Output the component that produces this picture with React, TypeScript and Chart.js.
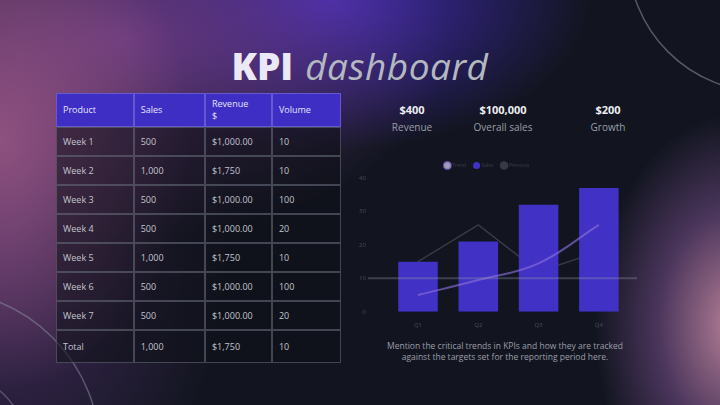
import React, { useEffect, useRef } from "react";
import Chart from "chart.js/auto";

const quarters = ["Q1", "Q2", "Q3", "Q4"];
const salesBars = [15, 21, 32, 37];
const trendLine = [5, 9.5, 14.5, 26];
const compareLine = [15, 26, 12, 18];
const targetValue = 10;
const yTicks = [0, 10, 20, 30, 40];

const tableHeader = ["Product", "Sales", "Revenue $", "Volume"];
const products = ["Week 1", "Week 2", "Week 3", "Week 4", "Week 5", "Week 6", "Week 7", "Total"];
const sales = ["500", "1,000", "500", "500", "1,000", "500", "500", "1,000"];
const revenue = ["$1,000.00", "$1,750", "$1,000.00", "$1,000.00", "$1,750", "$1,000.00", "$1,000.00", "$1,750"];
const volume = ["10", "10", "100", "20", "10", "100", "20", "10"];

const kpiValues = ["$400", "$100,000", "$200"];
const kpiLabels = ["Revenue", "Overall sales", "Growth"];

const FONT = "'Open Sans', 'Noto Sans', sans-serif";

const targetLinePlugin = {
  id: "targetLine",
  afterDatasetsDraw(chart: any) {
    const { ctx, chartArea, scales } = chart;
    const y = scales.y.getPixelForValue(targetValue);
    ctx.save();
    ctx.strokeStyle = "rgba(150,155,170,0.32)";
    ctx.lineWidth = 2;
    ctx.beginPath();
    ctx.moveTo(chartArea.left - 20, y);
    ctx.lineTo(chartArea.right + 8, y);
    ctx.stroke();
    ctx.restore();
  },
};

function KpiChart() {
  const ref = useRef<HTMLCanvasElement>(null);
  useEffect(() => {
    if (!ref.current) return;
    const chart = new Chart(ref.current, {
      type: "bar",
      data: {
        labels: quarters,
        datasets: [
          {
            type: "line",
            label: "Trend",
            data: trendLine,
            borderColor: "rgba(135,110,220,0.65)",
            backgroundColor: "rgba(200,195,215,0.8)",
            borderWidth: 2,
            tension: 0.4,
            pointRadius: 0,
            order: 0,
          },
          {
            type: "bar",
            label: "Sales",
            data: salesBars,
            backgroundColor: "#4131c4",
            barPercentage: 0.8,
            categoryPercentage: 0.82,
            order: 1,
          },
          {
            type: "line",
            label: "Previous",
            data: compareLine,
            borderColor: "rgba(58,60,72,0.95)",
            backgroundColor: "rgba(58,60,72,0.95)",
            borderWidth: 1.5,
            tension: 0,
            pointRadius: 0,
            order: 2,
          },
        ] as any,
      },
      options: {
        animation: false,
        responsive: false,
        maintainAspectRatio: false,
        layout: { padding: { left: 0, right: 12, top: 4, bottom: 0 } },
        plugins: {
          legend: {
            position: "top",
            labels: {
              color: "#3a3d49",
              font: { size: 5, family: FONT },
              usePointStyle: true,
              pointStyle: "circle",
              boxWidth: 5,
              boxHeight: 5,
              padding: 8,
            },
          },
          tooltip: { enabled: false },
        },
        scales: {
          x: {
            grid: { display: false },
            border: { display: false },
            ticks: { color: "#4a4d58", font: { size: 6, family: FONT }, padding: 2 },
          },
          y: {
            min: 0,
            max: 40,
            afterBuildTicks: (axis: any) => {
              axis.ticks = yTicks.map((v) => ({ value: v }));
            },
            grid: { display: false },
            border: { display: false },
            ticks: { color: "#4a4d58", font: { size: 6, family: FONT }, padding: 14 },
          },
        },
      },
      plugins: [targetLinePlugin],
    });
    return () => chart.destroy();
  }, []);
  return (
    <canvas
      ref={ref}
      width={296}
      height={180}
      style={{ position: "absolute", left: 345, top: 151, width: 296, height: 180 }}
    />
  );
}

export default function App() {
  useEffect(() => {
    document.body.style.margin = "0";
  }, []);

  const lineColor = "1px solid rgba(100,105,120,0.6)";
  const cellBase: React.CSSProperties = {
    background: "rgba(14,16,24,0.55)",
    color: "#c2c5cf",
    fontSize: 9,
    padding: "0 6px",
    verticalAlign: "middle",
    textAlign: "left",
    height: 27,
    border: lineColor,
  };
  const headCell: React.CSSProperties = {
    background: "#3e2ec4",
    color: "#e6e4ff",
    fontSize: 9,
    padding: "0 6px",
    textAlign: "left",
    verticalAlign: "middle",
    height: 32,
    fontWeight: 400,
    lineHeight: "12px",
    border: "1px solid rgba(110,100,210,0.8)",
  };
  const colWidths = [72, 66, 62, 64];

  return (
    <div
      style={{
        position: "relative",
        width: 720,
        height: 405,
        overflow: "hidden",
        fontFamily: FONT,
        background:
          "radial-gradient(ellipse 190px 250px at 0px 140px, rgba(160,90,135,0.8), rgba(160,90,135,0) 100%)," +
          "radial-gradient(ellipse 330px 200px at 120px 40px, rgba(115,62,135,0.85), rgba(115,62,135,0) 100%)," +
          "radial-gradient(ellipse 260px 150px at 330px 0px, rgba(70,45,195,0.9), rgba(70,45,195,0) 100%)," +
          "radial-gradient(ellipse 220px 330px at 10px 230px, rgba(95,55,125,0.65), rgba(95,55,125,0) 100%)," +
          "radial-gradient(ellipse 140px 210px at 735px 325px, rgba(200,140,165,0.9), rgba(130,85,150,0.5) 55%, rgba(80,60,130,0) 100%)," +
          "#121520",
      }}
    >
      <svg width={720} height={405} style={{ position: "absolute", left: 0, top: 0 }}>
        <circle cx={765} cy={-45} r={137} fill="none" stroke="rgba(140,145,160,0.55)" strokeWidth={1.5} />
        <circle cx={-62} cy={452} r={162} fill="none" stroke="rgba(140,145,160,0.5)" strokeWidth={1.5} />
        <circle cx={-42} cy={442} r={66} fill="none" stroke="rgba(140,145,160,0.45)" strokeWidth={1.5} />
      </svg>

      <div
        style={{
          position: "absolute",
          left: 0,
          top: 43,
          width: 720,
          textAlign: "center",
          fontSize: 37,
          lineHeight: "46px",
          whiteSpace: "nowrap",
        }}
      >
        <span style={{ color: "#ece9f6", fontWeight: 800 }}>KPI</span>
        <span style={{ color: "#b4b8c0", fontStyle: "italic", fontWeight: 400, marginLeft: 12, letterSpacing: 0.5 }}>
          dashboard
        </span>
      </div>

      <table
        style={{
          position: "absolute",
          left: 56,
          top: 93,
          width: 285,
          borderCollapse: "separate",
          borderSpacing: 0,
          tableLayout: "fixed",
        }}
      >
        <colgroup>
          {colWidths.map((w, i) => (
            <col key={i} style={{ width: w }} />
          ))}
        </colgroup>
        <thead>
          <tr>
            {tableHeader.map((h, i) => (
              <th key={i} style={i === 2 ? { ...headCell, paddingRight: 22 } : headCell}>
                {h}
              </th>
            ))}
          </tr>
        </thead>
        <tbody>
          {products.map((p, r) => (
            <tr key={r}>
              <td style={{ ...cellBase, height: r === products.length - 1 ? 31 : 27 }}>{p}</td>
              <td style={cellBase}>{sales[r]}</td>
              <td style={cellBase}>{revenue[r]}</td>
              <td style={cellBase}>{volume[r]}</td>
            </tr>
          ))}
        </tbody>
      </table>

      {kpiValues.map((v, i) => (
        <div
          key={i}
          style={{
            position: "absolute",
            left: [372, 453, 568][i],
            top: 101,
            width: [80, 100, 80][i],
            textAlign: "center",
          }}
        >
          <div style={{ color: "#eceef2", fontWeight: 700, fontSize: 11, lineHeight: "18px" }}>{v}</div>
          <div style={{ color: "#9a9ea8", fontSize: 10, lineHeight: "17px" }}>{kpiLabels[i]}</div>
        </div>
      ))}

      <KpiChart />

      <div
        style={{
          position: "absolute",
          left: 355,
          top: 340,
          width: 300,
          textAlign: "center",
          color: "#9a9ea8",
          fontSize: 8.5,
          lineHeight: "11px",
        }}
      >
        Mention the critical trends in KPIs and how they are tracked
        <br />
        against the targets set for the reporting period here.
      </div>
    </div>
  );
}
